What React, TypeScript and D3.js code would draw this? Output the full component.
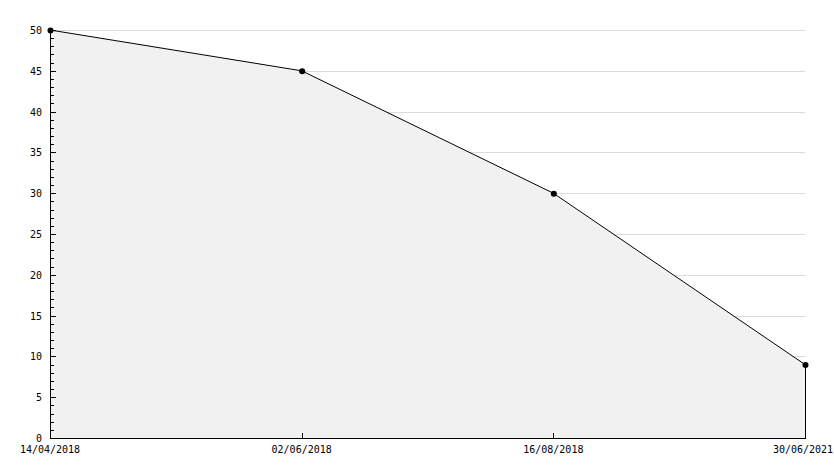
import React from "react";
import * as d3 from "d3";

const categories = ["14/04/2018", "02/06/2018", "16/08/2018", "30/06/2021"];
const values = [50, 45, 30, 9];
const yTicks = [0, 5, 10, 15, 20, 25, 30, 35, 40, 45, 50];

const W = 834;
const H = 468;
const left = 50;
const right = 805;
const top = 30;
const bottom = 438;

export default function App() {
  const x = d3.scalePoint<string>().domain(categories).range([left, right]);
  const y = d3.scaleLinear().domain([0, 50]).range([bottom, top]);
  const data = categories.map((c, i) => ({ c, v: values[i] }));
  const area = d3
    .area<{ c: string; v: number }>()
    .x((d) => x(d.c)!)
    .y0(y(0))
    .y1((d) => y(d.v));
  const line = d3
    .line<{ c: string; v: number }>()
    .x((d) => x(d.c)!)
    .y((d) => y(d.v));
  const minor = d3.range(0, 51, 1);
  const font = "'DejaVu Sans Mono', monospace";
  return (
    <svg
      width={W}
      height={H}
      style={{ position: "absolute", left: 0, top: 0, background: "#fff" }}
      shapeRendering="crispEdges"
    >
      {yTicks.map((t) => (
        <line key={"g" + t} x1={left} x2={right} y1={y(t) + 0.5} y2={y(t) + 0.5} stroke="#dcdcdc" />
      ))}
      <path d={area(data)!} fill="#f1f1f1" stroke="none" />
      <line x1={x(categories[3])! + 0.5} x2={x(categories[3])! + 0.5} y1={y(values[3])} y2={bottom} stroke="#000" />
      <path d={line(data)!} fill="none" stroke="#000" shapeRendering="auto" />
      <line x1={left + 0.5} x2={left + 0.5} y1={top} y2={bottom + 1} stroke="#000" />
      <line x1={left} x2={right + 1} y1={bottom + 0.5} y2={bottom + 0.5} stroke="#000" />
      {minor.map((t) => (
        <line
          key={"m" + t}
          x1={left}
          x2={left + (t % 5 === 0 ? 6 : 4)}
          y1={y(t) + 0.5}
          y2={y(t) + 0.5}
          stroke="#000"
        />
      ))}
      {yTicks.map((t) => (
        <text key={"yl" + t} x={42} y={y(t) + 4} textAnchor="end" fontFamily={font} fontSize={10} fill="#000">
          {t}
        </text>
      ))}
      {categories.map((c, i) => (
        <g key={"x" + c}>
          {i > 0 && i < categories.length - 1 && (
            <line x1={x(c)! + 0.5} x2={x(c)! + 0.5} y1={bottom - 5} y2={bottom} stroke="#000" />
          )}
          <text
            x={i === categories.length - 1 ? Math.min(x(c)!, W - 31) : x(c)!}
            y={bottom + 15}
            textAnchor="middle"
            fontFamily={font}
            fontSize={10}
            fill="#000"
          >
            {c}
          </text>
        </g>
      ))}
      {data.map((d) => (
        <circle key={"p" + d.c} cx={x(d.c)! + 0.5} cy={y(d.v) + 0.5} r={3} fill="#000" shapeRendering="auto" />
      ))}
    </svg>
  );
}
